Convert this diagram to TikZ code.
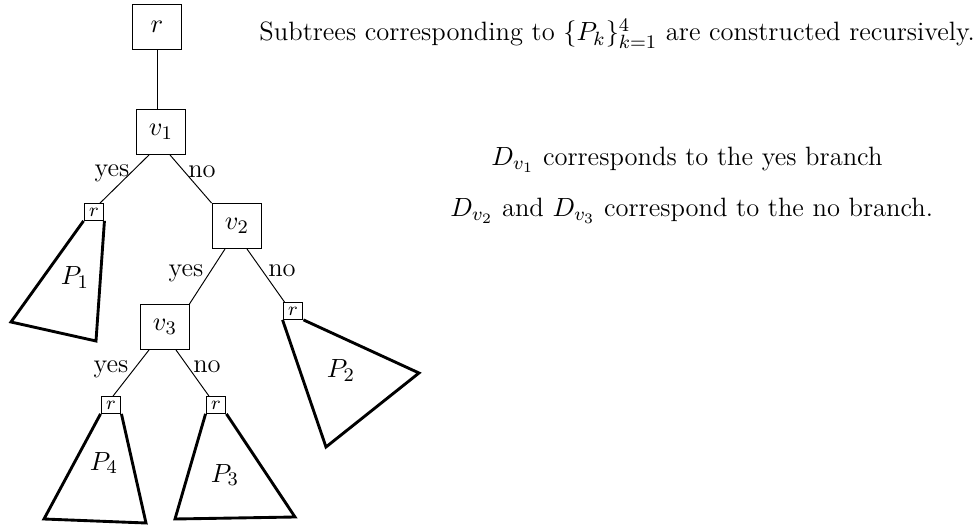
\documentclass[tikz,border=0pt]{standalone}
\usetikzlibrary{calc}
\begin{document}
\begin{tikzpicture}[x=0.4167pt,y=-0.4167pt,
  every node/.style={font=\fontsize{11.05pt}{13pt}\selectfont},
  bigbox/.style={draw,thin,minimum width=20.8pt,minimum height=18.75pt,inner sep=0pt},
  smallbox/.style={draw,thin,minimum width=8.3pt,minimum height=7pt,inner sep=0pt,font=\fontsize{8.5pt}{10pt}\selectfont},
  edge/.style={thin},
  tri/.style={very thick,line join=miter},
  lbl/.style={inner sep=0pt,anchor=base}]
\useasboundingbox (0,0) rectangle (977,525);
% nodes
\node[bigbox] (r) at (157,27) {$r$};
\node[bigbox] (v1) at (161,132) {$v_1$};
\node[bigbox] (v2) at (237,226) {$v_2$};
\node[bigbox] (v3) at (165,327) {$v_3$};
\node[smallbox] (r1) at (94,212) {$r$};
\node[smallbox] (r2) at (293,311) {$r$};
\node[smallbox] (r4) at (111,405) {$r$};
\node[smallbox] (r3) at (216,405) {$r$};
% connectors
\draw[edge] (r.south) -- (r.south |- v1.north);
\draw[edge] ($(v1.south)+(-12,0)$) -- ($(r1.north)+(6,0)$);
\draw[edge] ($(v1.south)+(9,0)$) -- (v2.north west);
\draw[edge] ($(v2.south)+(-12,0)$) -- ($(v3.north east)+(-1,0)$);
\draw[edge] ($(v2.south)+(10,0)$) -- ($(r2.north west)+(2,0)$);
\draw[edge] ($(v3.south)+(-16,0)$) -- ($(r4.north)+(2,0)$);
\draw[edge] ($(v3.south)+(11,0)$) -- ($(r3.north)+(-7,0)$);
% edge labels
\node[lbl] (y1) at (112,177) {yes};
\node[lbl] (n1) at (202,178) {no};
\node[lbl] (y2) at (186,277) {yes};
\node[lbl] (n2) at (282,276) {no};
\node[lbl] (y3) at (111,373) {yes};
\node[lbl] (n3) at (207,373) {no};
% subtrees
\coordinate (p1a) at (11,322); \coordinate (p1b) at (96,341);
\draw[tri] (r1.south west) -- (p1a) -- (p1b) -- (r1.south east);
\node[lbl] (P1) at (75,285) {$P_1$};
\coordinate (p2a) at (326,447); \coordinate (p2b) at (419,373);
\draw[tri] (r2.south west) -- (p2a) -- (p2b) -- (r2.south east);
\node[lbl] (P2) at (341,378) {$P_2$};
\coordinate (p4a) at (44,519); \coordinate (p4b) at (146,523);
\draw[tri] (r4.south west) -- (p4a) -- (p4b) -- (r4.south east);
\node[lbl] (P4) at (104,470) {$P_4$};
\coordinate (p3a) at (175,519); \coordinate (p3b) at (295,517);
\draw[tri] (r3.south west) -- (p3a) -- (p3b) -- (r3.south east);
\node[lbl] (P3) at (225,482) {$P_3$};
% texts
\node[anchor=base west,inner sep=0pt] (t1) at (259,41) {Subtrees corresponding to $\{P_k\}_{k=1}^4$ are constructed recursively.};
\node[anchor=base west,inner sep=0pt] (t2) at (491,166) {$D_{v_1}$ corresponds to the yes branch};
\node[anchor=base west,inner sep=0pt] (t3) at (450,217) {$D_{v_2}$ and $D_{v_3}$ correspond to the no branch.};
\end{tikzpicture}
\end{document}
